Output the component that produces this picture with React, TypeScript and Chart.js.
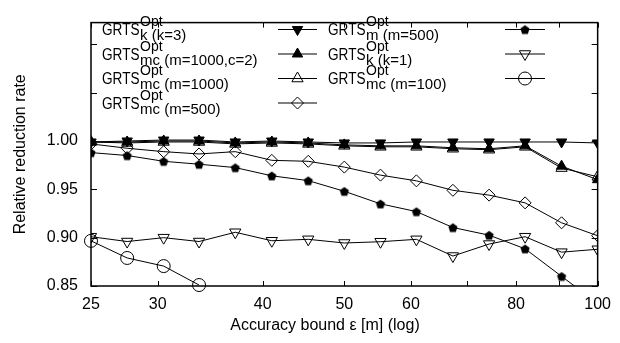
import React, { useEffect, useRef } from 'react';
import { Chart, registerables } from 'chart.js';
import { drawPoint } from 'chart.js/helpers';

Chart.register(...registerables);

// ---- data ----
const accuracyBounds = [25, 27.6, 30.5, 33.6, 37.1, 41, 45.3, 50, 55.2, 60.9, 67.3, 74.3, 82, 90.6, 100];

const kK3 = [0.999, 1.0, 1.001, 1.001, 0.999, 1.0, 0.999, 0.998, 0.998, 0.999, 0.999, 0.999, 0.999, 0.999, 0.998];
const mcM1000C2 = [0.999, 0.999, 1.0, 1.0, 0.998, 0.999, 0.998, 0.996, 0.995, 0.995, 0.993, 0.992, 0.995, 0.974, 0.96];
const mcM1000 = [0.999, 0.998, 0.999, 0.999, 0.997, 0.998, 0.997, 0.995, 0.994, 0.994, 0.992, 0.991, 0.994, 0.972, 0.963];
const mcM500 = [0.997, 0.9925, 0.989, 0.9866, 0.989, 0.98, 0.979, 0.973, 0.9647, 0.9588, 0.949, 0.944, 0.936, 0.9154, 0.902];
const mM500 = [0.988, 0.985, 0.979, 0.976, 0.9725, 0.964, 0.959, 0.948, 0.935, 0.927, 0.9105, 0.9026, 0.8885, 0.86, 0.832];
const kK1 = [0.901, 0.896, 0.9, 0.896, 0.9056, 0.8968, 0.8983, 0.8945, 0.8958, 0.8983, 0.881, 0.8934, 0.901, 0.885, 0.888];
const mcM100 = [0.8967, 0.879, 0.8706, 0.851, null, null, null, null, null, null, null, null, null, null, null];

const legendMain = 'GRTS';
const legendSup = 'Opt';
const legendSubs = [
  'k (k=3)',
  'mc (m=1000,c=2)',
  'mc (m=1000)',
  'mc (m=500)',
  'm (m=500)',
  'k (k=1)',
  'mc (m=100)',
];

const xTickValues = [25, 30, 40, 50, 60, 70, 80, 90, 100];
const xTickLabels = ['25', '30', '40', '50', '60', '', '80', '', '100'];
const yTickValues = [0.85, 0.9, 0.95, 1.0, 1.05, 1.1];
const yTickLabels = ['0.85', '0.90', '0.95', '1.00', '', ''];

const xTitle = 'Accuracy bound ε [m] (log)';
const yTitle = 'Relative reduction rate';

const FONT = "'Liberation Sans', Arial, Helvetica, sans-serif";

function makePentagon(r: number) {
  const c = document.createElement('canvas');
  const size = Math.ceil(r * 2) + 2;
  c.width = size;
  c.height = size;
  const g = c.getContext('2d')!;
  g.beginPath();
  for (let i = 0; i < 5; i++) {
    const a = -Math.PI / 2 + (i * 2 * Math.PI) / 5;
    const px = size / 2 + r * Math.cos(a);
    const py = size / 2 + r * Math.sin(a) + 0.5;
    if (i === 0) g.moveTo(px, py);
    else g.lineTo(px, py);
  }
  g.closePath();
  g.fillStyle = '#000';
  g.fill();
  return c;
}

const framePlugin = {
  id: 'gnuFrame',
  afterDatasetsDraw(chart: any) {
    const { ctx, chartArea: a, scales } = chart;
    const xs = scales.x;
    const ys = scales.y;
    ctx.save();
    ctx.strokeStyle = '#000';
    ctx.lineWidth = 1.5;
    ctx.strokeRect(a.left, a.top, a.right - a.left, a.bottom - a.top);
    ctx.lineWidth = 1;
    ctx.beginPath();
    for (const v of xTickValues) {
      const px = Math.round(xs.getPixelForValue(v)) + 0.5;
      ctx.moveTo(px, a.bottom);
      ctx.lineTo(px, a.bottom - 5);
      ctx.moveTo(px, a.top);
      ctx.lineTo(px, a.top + 5);
    }
    for (const v of yTickValues) {
      const py = Math.round(ys.getPixelForValue(v)) + 0.5;
      ctx.moveTo(a.left, py);
      ctx.lineTo(a.left + 6, py);
      ctx.moveTo(a.right, py);
      ctx.lineTo(a.right - 6, py);
    }
    ctx.stroke();
    ctx.restore();
  },
  afterDraw(chart: any) {
    const { ctx } = chart;
    ctx.save();
    // x title
    ctx.fillStyle = '#000';
    ctx.font = `16px ${FONT}`;
    ctx.textAlign = 'center';
    ctx.textBaseline = 'alphabetic';
    ctx.fillText(xTitle, 325, 330);

    // legend
    const cols = [
      { textX: 102, lineX0: 278, lineX1: 317 },
      { textX: 328, lineX0: 505, lineX1: 545 },
    ];
    const baseY = 35;
    const rowGap = 24.5;
    chart.data.datasets.forEach((ds: any, i: number) => {
      const col = i < 4 ? cols[0] : cols[1];
      const row = i < 4 ? i : i - 4;
      const by = baseY + row * rowGap;
      ctx.fillStyle = '#000';
      ctx.textAlign = 'left';
      ctx.textBaseline = 'alphabetic';
      ctx.font = `16px ${FONT}`;
      ctx.save();
      ctx.translate(col.textX, by);
      ctx.scale(0.85, 1);
      ctx.fillText(legendMain, 0, 0);
      ctx.restore();
      const subX = col.textX + ctx.measureText(legendMain).width * 0.85 + 0.5;
      ctx.font = `14px ${FONT}`;
      ctx.fillText(legendSup, subX, by - 9);
      ctx.font = `15px ${FONT}`;
      ctx.fillText(legendSubs[i], subX, by + 5);
      // sample
      const ly = by - 5.5;
      ctx.strokeStyle = '#000';
      ctx.lineWidth = 1;
      ctx.beginPath();
      ctx.moveTo(col.lineX0, ly);
      ctx.lineTo(col.lineX1, ly);
      ctx.stroke();
      ctx.fillStyle = ds.pointBackgroundColor;
      ctx.strokeStyle = ds.pointBorderColor;
      ctx.lineWidth = ds.pointBorderWidth;
      drawPoint(
        ctx,
        {
          pointStyle: ds.pointStyle,
          rotation: ds.pointRotation || 0,
          radius: ds.pointRadius,
          borderWidth: ds.pointBorderWidth,
        } as any,
        (col.lineX0 + col.lineX1) / 2,
        ly
      );
    });
    ctx.restore();
  },
};

export default function App() {
  const ref = useRef<HTMLCanvasElement | null>(null);

  useEffect(() => {
    if (!ref.current) return;
    const pentagon = makePentagon(4.8);
    const open = 'rgba(0,0,0,0)';
    const mk = (label: string, data: (number | null)[], style: any, fill: string, radius: number, rotation = 0, extra: any = {}) => ({
      label,
      data: accuracyBounds.map((x, i) => ({ x, y: data[i] })),
      borderColor: '#000',
      borderWidth: 1,
      pointStyle: style,
      pointRotation: rotation,
      pointRadius: radius,
      pointBackgroundColor: fill,
      pointBorderColor: '#000',
      pointBorderWidth: 1,
      tension: 0,
      spanGaps: false,
      ...extra,
    });
    const datasets = [
      mk('GRTS^Opt_k (k=3)', kK3, 'triangle', '#000', 6, 180),
      mk('GRTS^Opt_mc (m=1000,c=2)', mcM1000C2, 'triangle', '#000', 6),
      mk('GRTS^Opt_mc (m=1000)', mcM1000, 'triangle', open, 6.5),
      mk('GRTS^Opt_mc (m=500)', mcM500, 'rectRot', open, 6),
      mk('GRTS^Opt_m (m=500)', mM500, pentagon, '#000', 5),
      mk('GRTS^Opt_k (k=1)', kK1, 'triangle', open, 6.5, 180),
      mk('GRTS^Opt_mc (m=100)', mcM100, 'circle', open, 6.5, 0, { clip: false }),
    ];

    const chart = new Chart(ref.current, {
      type: 'line',
      data: { datasets } as any,
      options: {
        animation: false,
        responsive: false,
        events: [],
        layout: { padding: { top: 8, right: 21, left: 0, bottom: 0 } },
        plugins: {
          legend: { display: false },
          tooltip: { enabled: false },
        },
        scales: {
          x: {
            type: 'logarithmic',
            min: 25,
            max: 100,
            afterBuildTicks: (s: any) => {
              s.ticks = xTickValues.map((v) => ({ value: v }));
            },
            afterFit: (s: any) => {
              s.height = 57;
            },
            grid: { display: false, drawTicks: false },
            border: { display: false },
            ticks: {
              autoSkip: false,
              maxRotation: 0,
              minRotation: 0,
              padding: 9,
              color: '#000',
              font: { family: FONT, size: 16 },
              callback: (_v: any, i: number) => xTickLabels[i],
            },
          },
          y: {
            type: 'linear',
            min: 0.85,
            max: 1.1225,
            afterBuildTicks: (s: any) => {
              s.ticks = yTickValues.map((v) => ({ value: v }));
            },
            afterFit: (s: any) => {
              s.width = 91;
            },
            grid: { display: false, drawTicks: false },
            border: { display: false },
            title: {
              display: true,
              text: yTitle,
              color: '#000',
              font: { family: FONT, size: 16 },
              padding: { top: 11, bottom: 0 },
            },
            ticks: {
              autoSkip: false,
              padding: 13,
              color: '#000',
              font: { family: FONT, size: 16 },
              callback: (_v: any, i: number) => yTickLabels[i],
            },
          },
        },
      } as any,
      plugins: [framePlugin],
    });
    return () => chart.destroy();
  }, []);

  return (
    <div style={{ position: 'absolute', left: 0, top: 0, width: 620, height: 343, background: '#fff' }}>
      <canvas ref={ref} width={620} height={343} style={{ width: 620, height: 343 }} />
    </div>
  );
}
